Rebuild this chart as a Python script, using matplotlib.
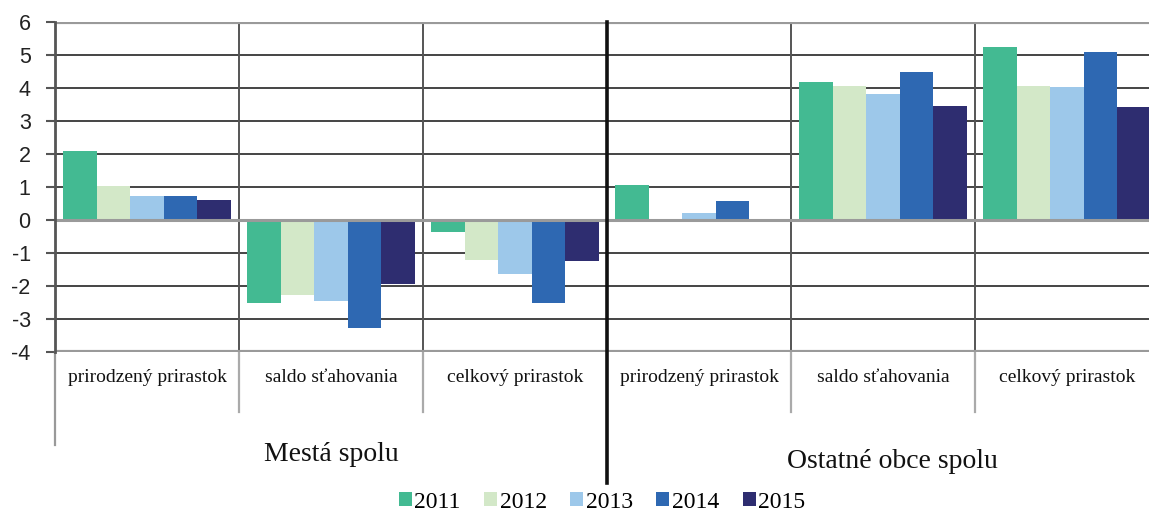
import matplotlib
matplotlib.use("Agg")
import matplotlib.pyplot as plt
from matplotlib.patches import Patch
import numpy as np

categories = ["prirodzený prirastok", "saldo sťahovania", "celkový prirastok",
              "prirodzený prirastok", "saldo sťahovania", "celkový prirastok"]
groups = ["Mestá spolu", "Ostatné obce spolu"]
years = ["2011", "2012", "2013", "2014", "2015"]
v2011 = [2.10, -2.50, -0.35, 1.06, 4.17, 5.24]
v2012 = [1.03, -2.28, -1.20, 0.00, 4.07, 4.07]
v2013 = [0.73, -2.45, -1.65, 0.20, 3.81, 4.02]
v2014 = [0.72, -3.28, -2.50, 0.58, 4.50, 5.10]
v2015 = [0.61, -1.94, -1.25, 0.00, 3.46, 3.43]
series = [v2011, v2012, v2013, v2014, v2015]
colors = ["#43BA92", "#D3E8C8", "#9DC8EA", "#2E68B2", "#2E2D70"]
yticks = [-4, -3, -2, -1, 0, 1, 2, 3, 4, 5, 6]

W, H = 1149, 513
fig = plt.figure(figsize=(W / 100, H / 100), dpi=100)
cat_px = 184
ax = fig.add_axes([55 / W, (H - 352) / H, 6 * cat_px / W, 330 / H])
ax.set_xlim(-0.5, 5.5)
ax.set_ylim(-4, 6)
ppu = 33.0  # pixels per y unit

x = np.arange(len(categories))
bw = 0.182
for j, (vals, c) in enumerate(zip(series, colors)):
    ax.bar(x + (j - 2) * bw, vals, width=bw, color=c, zorder=3, linewidth=0)

# horizontal grid
for yv in yticks:
    if yv in (-4, 6, 0):
        continue
    ax.axhline(yv, color="#444444", lw=1.4, zorder=1)
ax.axhline(6, color="#9a9a9a", lw=3, zorder=4)
ax.axhline(-4, color="#9a9a9a", lw=3, zorder=4)
ax.axhline(0, color="#9a9a9a", lw=2.2, zorder=4)

# vertical lines
for b in [0.5, 1.5, 3.5, 4.5]:
    ax.plot([b, b], [-4, 6], color="#555555", lw=1.4, zorder=1)
    ax.plot([b, b], [-4, -4 - 60 / ppu], color="#aaaaaa", lw=1.6, clip_on=False, zorder=1)
ax.plot([-0.5, -0.5], [-4, 6], color="#555555", lw=2, zorder=5, clip_on=False)
ax.plot([-0.5, -0.5], [-4, -4 - 93 / ppu], color="#999999", lw=1.6, clip_on=False)
ax.plot([2.5, 2.5], [6, -4 - 131 / ppu], color="#111111", lw=2.6, clip_on=False, zorder=6)

for s in ax.spines.values():
    s.set_visible(False)
ax.set_xticks([])
ax.set_yticks(yticks)
ax.set_yticklabels([str(t) for t in yticks], family="Liberation Sans", fontsize=15.5, color="#222222")
ax.tick_params(axis="y", length=6.5, width=1.5, color="#555555", pad=11)

for i, lab in enumerate(categories):
    ax.text(i, -4 - 25 / ppu, lab, ha="center", va="center", family="Liberation Serif",
            fontsize=14, color="#111111", clip_on=False)

ax.text(1, -4 - 103 / ppu, groups[0], ha="center", va="center", family="Liberation Serif",
        fontsize=20, color="#111111", clip_on=False)
ax.text(4.05, -4 - 110 / ppu, groups[1], ha="center", va="center", family="Liberation Serif",
        fontsize=20, color="#111111", clip_on=False)

handles = [Patch(facecolor=c, edgecolor="none", label=y) for c, y in zip(colors, years)]
fig.legend(handles=handles, loc="center", bbox_to_anchor=(602 / W, 1 - 502 / H), ncol=5,
           frameon=False, prop={"family": "Liberation Serif", "size": 17},
           handlelength=0.55, handleheight=0.55, handletextpad=0.1, columnspacing=1.0,
           borderpad=0, borderaxespad=0)

fig.savefig("out.png", dpi=100)
